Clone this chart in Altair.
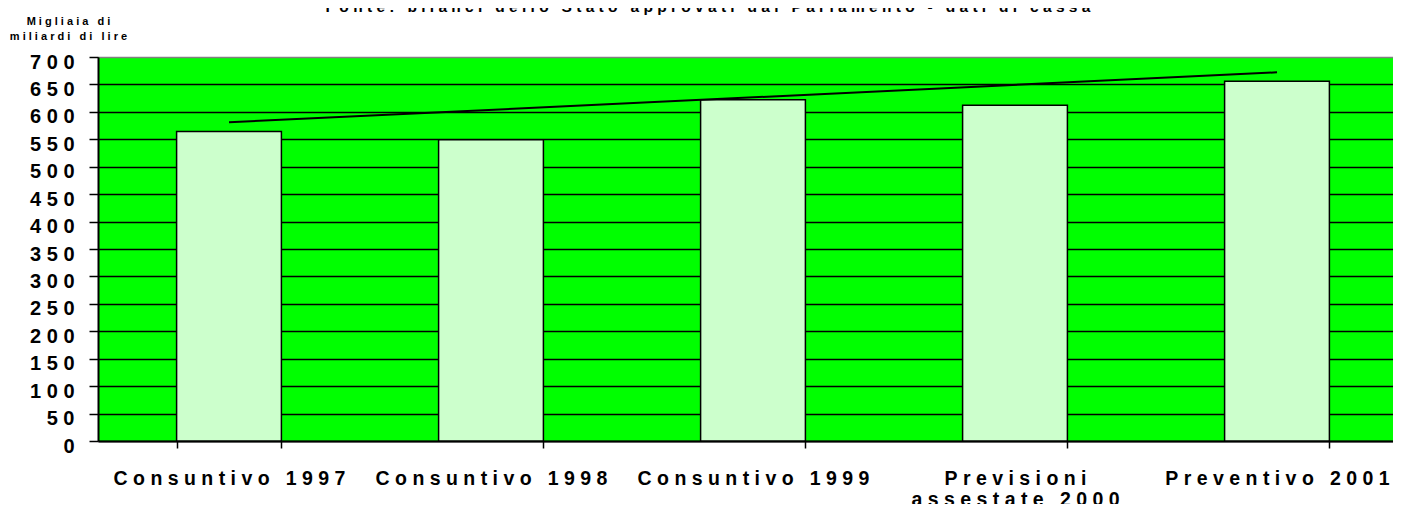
import altair as alt
import pandas as pd

# ---- data ----
categories = ["Consuntivo 1997", "Consuntivo 1998", "Consuntivo 1999",
              "Previsioni|assestate 2000", "Preventivo 2001"]
values = [564, 549, 622, 612, 656]
trend_categories = ["Consuntivo 1997", "Preventivo 2001"]
trend_values = [581, 672]
y_ticks = list(range(0, 701, 50))
y_title_lines = ["Migliaia di", "miliardi di lire"]
source_note = "Fonte: bilanci dello Stato approvati dal Parlamento - dati di cassa"

FONT = "Liberation Sans"
NBSP = "\u00a0"


def spaced(s):
    # imitate the wide letter spacing of the original (non-breaking spaces keep word gaps)
    return "|".join(NBSP.join(part.replace(" ", NBSP)) for part in s.split("|"))


labels = [spaced(c) for c in categories]
bars_df = pd.DataFrame({"cat": labels, "val": values})
trend_df = pd.DataFrame({"cat": [spaced(c) for c in trend_categories], "val": trend_values})
note_df = pd.DataFrame({"t": [spaced(source_note)]})

x_enc = alt.X(
    "cat:N",
    sort=labels,
    scale=alt.Scale(paddingInner=0.6, paddingOuter=0.3, range=[0, 1310]),
    axis=alt.Axis(
        title=None, labelAngle=0, labelExpr="split(datum.label, '|')",
        labelFont=FONT, labelFontSize=19.5, labelFontWeight="bold", labelColor="black",
        labelLineHeight=21, labelPadding=21, labelLimit=1000, labelOverlap=False,
        tickBand="extent", ticks=True, tickSize=7, tickColor="black", tickWidth=1.5,
        domainColor="black", domainWidth=2, grid=False,
    ),
)

y_enc = alt.Y(
    "val:Q",
    scale=alt.Scale(domain=[0, 700], nice=False),
    axis=alt.Axis(
        values=y_ticks,
        title=[spaced(t) for t in y_title_lines],
        titleAngle=0, titleX=-30, titleY=-33, titleAlign="center",
        titleBaseline="alphabetic", titleFont=FONT, titleFontSize=11,
        titleFontWeight="bold", titleLineHeight=15, titleColor="black",
        labelExpr="join(split(datum.label, ''), '" + NBSP + "')",
        labelFont=FONT, labelFontSize=20, labelFontWeight="bold", labelColor="black",
        labelPadding=15, labelOffset=5, labelOverlap=False,
        grid=True,
        gridColor={"condition": {"test": "datum.value === 700", "value": "#808080"},
                   "value": "black"},
        gridWidth=1.5,
        tickSize=9, tickColor="black", tickWidth=1.5,
        domainColor="black", domainWidth=2,
    ),
)

bars = alt.Chart(bars_df).mark_bar(
    fill="#CCFFCC", stroke="black", strokeWidth=1.5
).encode(x=x_enc, y=y_enc)

trend = alt.Chart(trend_df).mark_line(color="black", strokeWidth=2).encode(
    x=x_enc, y=y_enc
)

note = alt.Chart(note_df).mark_text(
    font=FONT, fontSize=15.5, fontWeight="bold", align="center",
    baseline="alphabetic", color="black",
).encode(text="t:N", x=alt.value(610), y=alt.value(-45))

chart = alt.layer(bars, trend, note).properties(
    width=1295, height=384,
    autosize=alt.AutoSizeParams(type="none"),
    padding={"left": 90, "top": 49, "right": 0, "bottom": 63},
    background="white",
).configure_view(
    fill="#00FF00", stroke=None
)

chart.save("out.html", embed_options={"renderer": "svg", "actions": False})
